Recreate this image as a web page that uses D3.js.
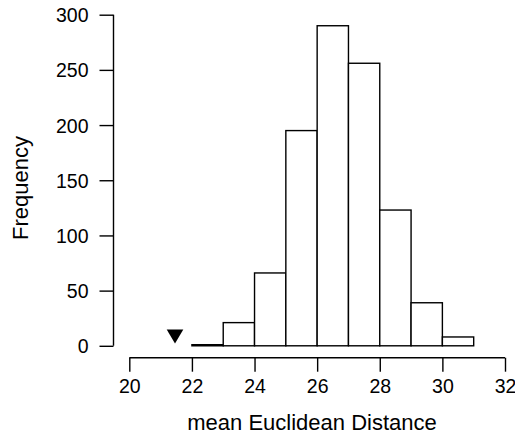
<!DOCTYPE html>
<html>
<head>
<meta charset="utf-8">
<script src="https://cdn.jsdelivr.net/npm/d3@7"></script>
<style>
  body { margin: 0; background: #fff; }
  text { font-family: "Liberation Sans", Arial, Helvetica, sans-serif; fill: #000; }
</style>
</head>
<body>
<svg></svg>
<script>
const width = 515;
const height = 435;

// histogram bins (left edges, width 1) and counts
const binStarts = [22, 23, 24, 25, 26, 27, 28, 29, 30];
const counts = [1, 21, 66, 195, 290, 256, 123, 39, 8];
const xTicks = [20, 22, 24, 26, 28, 30, 32];
const yTicks = [0, 50, 100, 150, 200, 250, 300];
// observed value marker
const observed = [{ x: 21.46, y: 9 }];

const svg = d3.select("svg")
  .attr("width", width)
  .attr("height", height);

const x = d3.scaleLinear().domain([20, 32]).range([129.3, 505]);
const y = d3.scaleLinear().domain([0, 300]).range([345.8, 14.7]);

// bars
svg.selectAll("rect.bar")
  .data(binStarts)
  .enter()
  .append("rect")
  .attr("class", "bar")
  .attr("x", d => x(d))
  .attr("y", (d, i) => y(counts[i]))
  .attr("width", d => x(d + 1) - x(d))
  .attr("height", (d, i) => y(0) - y(counts[i]))
  .attr("fill", "#fff")
  .attr("stroke", "#000")
  .attr("stroke-width", 1.4);

// x axis, detached below the bars
const xAxis = svg.append("g")
  .attr("transform", "translate(0,357.7)")
  .call(d3.axisBottom(x).tickValues(xTicks).tickSize(14).tickPadding(7).tickFormat(d3.format("d")));
xAxis.select(".domain").attr("d", `M${x(20)},0H${x(32)}`);

// y axis, detached left
const yAxis = svg.append("g")
  .attr("transform", "translate(113.5,0)")
  .call(d3.axisLeft(y).tickValues(yTicks).tickSize(14).tickPadding(11));
yAxis.select(".domain").attr("d", `M0,${y(0)}V${y(300)}`);

svg.selectAll(".tick text").attr("font-size", 19.5);
svg.selectAll(".domain, .tick line").attr("stroke", "#000").attr("stroke-width", 1.4);
xAxis.selectAll(".tick text").attr("dy", "0.71em");
yAxis.selectAll(".tick text").attr("dy", "0.36em");

// observed marker (downward triangle)
svg.selectAll("path.obs")
  .data(observed)
  .enter()
  .append("path")
  .attr("class", "obs")
  .attr("d", d => `M${x(d.x) - 8.3},${y(d.y) - 6.4}L${x(d.x) + 8.3},${y(d.y) - 6.4}L${x(d.x)},${y(d.y) + 7.6}Z`)
  .attr("fill", "#000");

// axis titles
svg.append("text")
  .attr("x", 312)
  .attr("y", 430)
  .attr("text-anchor", "middle")
  .attr("font-size", 22)
  .text("mean Euclidean Distance");

svg.append("text")
  .attr("transform", "translate(28,188) rotate(-90)")
  .attr("text-anchor", "middle")
  .attr("font-size", 22)
  .text("Frequency");
</script>
</body>
</html>
